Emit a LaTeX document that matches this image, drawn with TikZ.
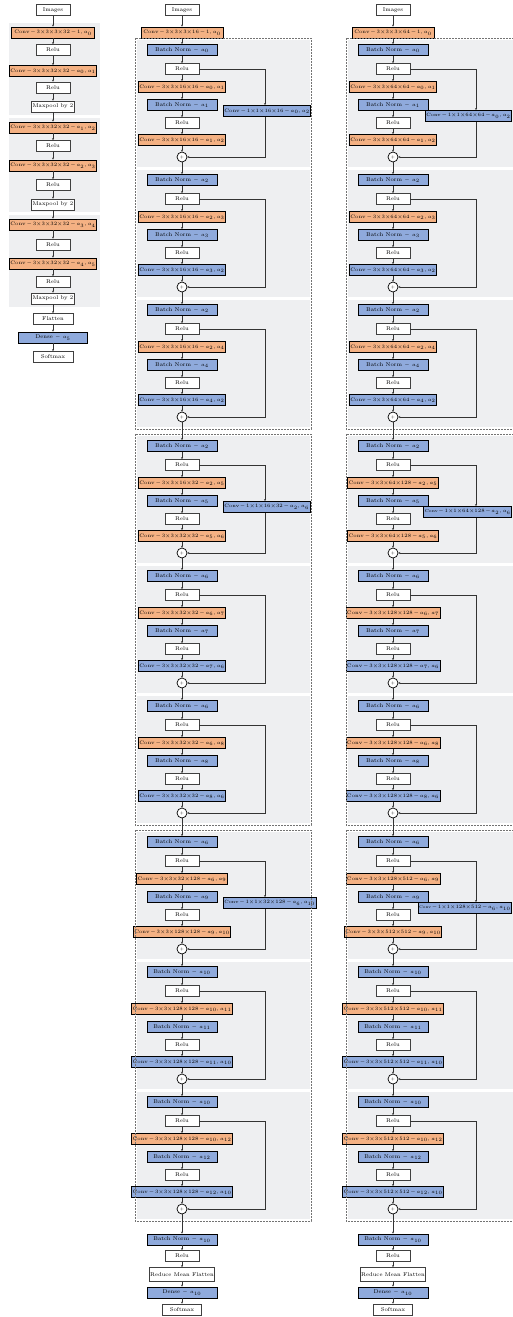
\documentclass[tikz,border=0pt]{standalone}
\usetikzlibrary{arrows.meta,calc}
\definecolor{convor}{HTML}{F4B183}
\definecolor{bnbl}{HTML}{8FAADC}
\definecolor{greybg}{HTML}{EEEFF1}
\tikzset{
 base/.style={rectangle, inner sep=1pt, minimum height=11pt, font=\fontsize{5.5}{6}\selectfont},
 convbox/.style={base, fill=convor, draw=black, line width=0.9pt, minimum width=82pt},
 bnbox/.style={base, fill=bnbl, draw=black, line width=0.9pt, minimum width=70pt},
 bconvbox/.style={bnbox, minimum width=82pt},
 sidebox/.style={bnbox, minimum width=60pt},
 plainbox/.style={base, fill=white, draw=black!75, line width=0.7pt, minimum width=34pt},
 sumnode/.style={circle, draw=black, line width=0.7pt, fill=white, minimum size=10pt, inner sep=0pt, font=\fontsize{4}{4}\selectfont},
 arr/.style={draw=black!80, line width=0.5pt, -{Stealth[length=2pt,width=2pt]}},
 grp/.style={draw=black!55, line width=0.5pt, dash pattern=on 2pt off 1pt},
}
\newcommand{\cv}[2]{{\fontsize{5}{6}\selectfont Conv\,$-$\,$#1$\,$-$\,$#2$}}
\newcommand{\cvf}[3]{{\fontsize{#1}{6}\selectfont Conv\,$-$\,$#2$\,$-$\,$#3$}}
\newcommand{\resblk}[9]{%
 \fill[greybg] (#2-45,#3-10) rectangle (#2+128,#3+117);
 \node[bnbox] (#1b1) at (#2,#3) {Batch Norm $-$ $a_{#4}$};
 \node[plainbox] (#1r1) at (#2,#3+19) {Relu};
 \node[convbox] (#1c1) at (#2,#3+37) {#5};
 \node[bnbox] (#1b2) at (#2,#3+55) {Batch Norm $-$ $a_{#6}$};
 \node[plainbox] (#1r2) at (#2,#3+73) {Relu};
 \node[#8] (#1c2) at (#2,#3+90) {#7};
 \node[sumnode] (#1s) at (#2,#3+107) {+};
 \draw[arr] (#1b1) -- (#1r1);
 \draw[arr] (#1r1) -- (#1c1);
 \draw[arr] (#1c1) -- (#1b2);
 \draw[arr] (#1b2) -- (#1r2);
 \draw[arr] (#1r2) -- (#1c2);
 \draw[arr] (#1c2) -- (#1s);
 \coordinate (#1kx) at (#2+83,#3);
 \if\relax\detokenize{#9}\relax
   \coordinate (#1k) at (#2+83,#3+107);
   \draw[arr] (#1r1.east) -| (#1k) -- (#1s.east);
 \else
   \ifdim #2pt>300pt
     \node[sidebox, anchor=east] (#1sc) at (512,#3+66) {#9};
   \else
     \node[sidebox, anchor=west] (#1sc) at (#2+41,#3+61) {#9};
   \fi
   \draw[arr] (#1r1.east) -| (#1kx |- #1sc.north);
   \draw[arr] (#1kx |- #1sc.south) |- (#1s.east);
 \fi
}
\begin{document}
\begin{tikzpicture}[x=1pt,y=-1pt]
\useasboundingbox (0,0) rectangle (513,1317);
% ---------------- left column ----------------
\fill[greybg] (9,23) rectangle (100,115);
\fill[greybg] (9,118) rectangle (100,212);
\fill[greybg] (9,215) rectangle (100,307);
\node[plainbox] (L0) at (53,10) {Images};
\node[convbox, minimum width=83pt] (L1) at (53,32.5) {\cv{3{\times}3{\times}3{\times}32}{1, a_0}};
\node[plainbox] (L2) at (53,50) {Relu};
\node[convbox, minimum width=83pt] (L3) at (53,71) {\cv{3{\times}3{\times}32{\times}32}{a_0,a_1}};
\node[plainbox] (L4) at (53,87.5) {Relu};
\node[plainbox, minimum width=40pt] (L5) at (53,106.5) {Maxpool by 2};
\node[convbox, minimum width=83pt] (L6) at (53,127.5) {\cv{3{\times}3{\times}32{\times}32}{a_1,a_2}};
\node[plainbox] (L7) at (53,146) {Relu};
\node[convbox, minimum width=83pt] (L8) at (53,165.5) {\cv{3{\times}3{\times}32{\times}32}{a_2,a_3}};
\node[plainbox] (L9) at (53,185) {Relu};
\node[plainbox, minimum width=40pt] (L10) at (53,204.5) {Maxpool by 2};
\node[convbox, minimum width=83pt] (L11) at (53,224.5) {\cv{3{\times}3{\times}32{\times}32}{a_3,a_4}};
\node[plainbox] (L12) at (53,244.5) {Relu};
\node[convbox, minimum width=83pt] (L13) at (53,263.5) {\cv{3{\times}3{\times}32{\times}32}{a_4,a_5}};
\node[plainbox] (L14) at (53,282) {Relu};
\node[plainbox, minimum width=40pt] (L15) at (53,298.5) {Maxpool by 2};
\node[plainbox, minimum width=40pt] (L16) at (53,319) {Flatten};
\node[bnbox, minimum width=69pt] (L17) at (53,337.5) {Dense $-$ $a_5$};
\node[plainbox, minimum width=40pt] (L18) at (53,357) {Softmax};
\foreach \a/\b in {L0/L1,L1/L2,L2/L3,L3/L4,L4/L5,L5/L6,L6/L7,L7/L8,L8/L9,L9/L10,L10/L11,L11/L12,L12/L13,L13/L14,L14/L15,L15/L16,L16/L17,L17/L18}
  \draw[arr] (\a) -- (\b);
% ---------------- middle column ----------------
\node[plainbox] (M0) at (182,10) {Images};
\node[convbox] (Mc) at (182,32.5) {\cv{3{\times}3{\times}3{\times}16}{1, a_0}};
\resblk{MA}{182}{50}{0}{\cv{3{\times}3{\times}16{\times}16}{a_0,a_1}}{1}{\cv{3{\times}3{\times}16{\times}16}{a_1,a_2}}{convbox}{\cv{1{\times}1{\times}16{\times}16}{a_0,a_2}}
\resblk{MB}{182}{180}{2}{\cv{3{\times}3{\times}16{\times}16}{a_2,a_3}}{3}{\cv{3{\times}3{\times}16{\times}16}{a_3,a_2}}{bconvbox}{}
\resblk{MC}{182}{310}{2}{\cv{3{\times}3{\times}16{\times}16}{a_2,a_4}}{4}{\cv{3{\times}3{\times}16{\times}16}{a_4,a_2}}{bconvbox}{}
\resblk{MD}{182}{446}{2}{\cv{3{\times}3{\times}16{\times}32}{a_2,a_5}}{5}{\cv{3{\times}3{\times}32{\times}32}{a_5,a_6}}{convbox}{\cvf{4.8}{1{\times}1{\times}16{\times}32}{a_2,a_6}}
\resblk{ME}{182}{576}{6}{\cv{3{\times}3{\times}32{\times}32}{a_6,a_7}}{7}{\cv{3{\times}3{\times}32{\times}32}{a_7,a_6}}{bconvbox}{}
\resblk{MF}{182}{706}{6}{\cv{3{\times}3{\times}32{\times}32}{a_6,a_8}}{8}{\cv{3{\times}3{\times}32{\times}32}{a_8,a_6}}{bconvbox}{}
\resblk{MG}{182}{842}{6}{\cv{3{\times}3{\times}32{\times}128}{a_6,a_9}}{9}{\cv{3{\times}3{\times}128{\times}128}{a_9,a_{10}}}{convbox}{\cvf{4.6}{1{\times}1{\times}32{\times}128}{a_6,a_{10}}}
\resblk{MH}{182}{972}{10}{\cv{3{\times}3{\times}128{\times}128}{a_{10},a_{11}}}{11}{\cv{3{\times}3{\times}128{\times}128}{a_{11},a_{10}}}{bconvbox}{}
\resblk{MI}{182}{1102}{10}{\cv{3{\times}3{\times}128{\times}128}{a_{10},a_{12}}}{12}{\cv{3{\times}3{\times}128{\times}128}{a_{12},a_{10}}}{bconvbox}{}
\draw[grp] (135,38) rectangle (311,429);
\draw[grp] (135,434) rectangle (311,825);
\draw[grp] (135,830) rectangle (311,1221);
\node[bnbox] (Mn) at (182,1239.5) {Batch Norm $-$ $a_{10}$};
\node[plainbox] (Mr) at (182,1256) {Relu};
\node[plainbox, minimum width=61pt, minimum height=14pt] (Mf) at (182,1274.5) {Reduce Mean Flatten};
\node[bnbox] (Md) at (182,1292.5) {Dense $-$ $a_{10}$};
\node[plainbox, minimum width=39pt] (Ms) at (182,1309.5) {Softmax};
\foreach \a/\b in {M0/Mc,Mc/MAb1,MAs/MBb1,MBs/MCb1,MCs/MDb1,MDs/MEb1,MEs/MFb1,MFs/MGb1,MGs/MHb1,MHs/MIb1,MIs/Mn,Mn/Mr,Mr/Mf,Mf/Md,Md/Ms}
  \draw[arr] (\a) -- (\b);
% ---------------- right column ----------------
\node[plainbox] (R0) at (393,10) {Images};
\node[convbox] (Rc) at (393,32.5) {\cv{3{\times}3{\times}3{\times}64}{1, a_0}};
\resblk{RA}{393}{50}{0}{\cv{3{\times}3{\times}64{\times}64}{a_0,a_1}}{1}{\cv{3{\times}3{\times}64{\times}64}{a_1,a_2}}{convbox}{\cvf{4.7}{1{\times}1{\times}64{\times}64}{a_0,a_2}}
\resblk{RB}{393}{180}{2}{\cv{3{\times}3{\times}64{\times}64}{a_2,a_3}}{3}{\cv{3{\times}3{\times}64{\times}64}{a_3,a_2}}{bconvbox}{}
\resblk{RC}{393}{310}{2}{\cv{3{\times}3{\times}64{\times}64}{a_2,a_4}}{4}{\cv{3{\times}3{\times}64{\times}64}{a_4,a_2}}{bconvbox}{}
\resblk{RD}{393}{446}{2}{\cv{3{\times}3{\times}64{\times}128}{a_2,a_5}}{5}{\cv{3{\times}3{\times}64{\times}128}{a_5,a_6}}{convbox}{\cvf{4.2}{1{\times}1{\times}64{\times}128}{a_2,a_6}}
\resblk{RE}{393}{576}{6}{\cv{3{\times}3{\times}128{\times}128}{a_6,a_7}}{7}{\cv{3{\times}3{\times}128{\times}128}{a_7,a_6}}{bconvbox}{}
\resblk{RF}{393}{706}{6}{\cv{3{\times}3{\times}128{\times}128}{a_6,a_8}}{8}{\cv{3{\times}3{\times}128{\times}128}{a_8,a_6}}{bconvbox}{}
\resblk{RG}{393}{842}{6}{\cv{3{\times}3{\times}128{\times}512}{a_6,a_9}}{9}{\cv{3{\times}3{\times}512{\times}512}{a_9,a_{10}}}{convbox}{\cvf{3.9}{1{\times}1{\times}128{\times}512}{a_6,a_{10}}}
\resblk{RH}{393}{972}{10}{\cv{3{\times}3{\times}512{\times}512}{a_{10},a_{11}}}{11}{\cv{3{\times}3{\times}512{\times}512}{a_{11},a_{10}}}{bconvbox}{}
\resblk{RI}{393}{1102}{10}{\cv{3{\times}3{\times}512{\times}512}{a_{10},a_{12}}}{12}{\cv{3{\times}3{\times}512{\times}512}{a_{12},a_{10}}}{bconvbox}{}
\draw[grp] (346,38) rectangle (522,429);
\draw[grp] (346,434) rectangle (522,825);
\draw[grp] (346,830) rectangle (522,1221);
\node[bnbox] (Rn) at (393,1239.5) {Batch Norm $-$ $a_{10}$};
\node[plainbox] (Rr) at (393,1256) {Relu};
\node[plainbox, minimum width=61pt, minimum height=14pt] (Rf) at (393,1274.5) {Reduce Mean Flatten};
\node[bnbox] (Rd) at (393,1292.5) {Dense $-$ $a_{10}$};
\node[plainbox, minimum width=39pt] (Rs) at (393,1309.5) {Softmax};
\foreach \a/\b in {R0/Rc,Rc/RAb1,RAs/RBb1,RBs/RCb1,RCs/RDb1,RDs/REb1,REs/RFb1,RFs/RGb1,RGs/RHb1,RHs/RIb1,RIs/Rn,Rn/Rr,Rr/Rf,Rf/Rd,Rd/Rs}
  \draw[arr] (\a) -- (\b);
\end{tikzpicture}
\end{document}
